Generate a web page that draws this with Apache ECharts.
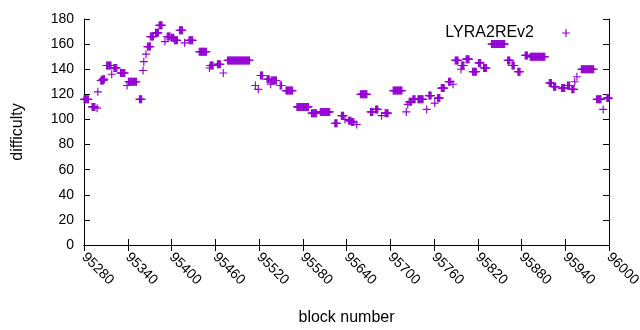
<!DOCTYPE html>
<html>
<head>
<meta charset="utf-8">
<script src="https://cdn.jsdelivr.net/npm/echarts@6/dist/echarts.min.js"></script>
<style>
  html, body { margin: 0; padding: 0; background: #fff; }
  #main { width: 640px; height: 330px; }
</style>
</head>
<body>
<div id="main"></div>
<script>
// runs of blocks that share one difficulty value: first block, last block, value
var runStart = [95280, 95291, 95298, 95299, 95303, 95305, 95311, 95318, 95321, 95330,
  95339, 95341, 95356, 95361, 95362, 95365, 95367, 95371, 95378, 95383,
  95391, 95394, 95400, 95404, 95411, 95418, 95424, 95438, 95452, 95453,
  95463, 95471, 95477, 95515, 95519, 95522, 95531, 95536, 95537, 95549,
  95557, 95572, 95592, 95604, 95624, 95633, 95638, 95643, 95647, 95654,
  95659, 95673, 95680, 95688, 95693, 95704, 95722, 95724, 95726, 95731,
  95738, 95750, 95753, 95761, 95765, 95770, 95780, 95786, 95789, 95797,
  95798, 95804, 95813, 95821, 95828, 95839, 95861, 95867, 95875, 95885,
  95892, 95918, 95924, 95935, 95943, 95949, 95953, 95956, 95962, 95983,
  95992, 95997];
var runEnd = [95286, 95295, 95298, 95299, 95307, 95308, 95317, 95318, 95325, 95336,
  95339, 95352, 95359, 95361, 95362, 95365, 95371, 95375, 95382, 95387,
  95391, 95398, 95403, 95408, 95415, 95418, 95429, 95448, 95452, 95457,
  95467, 95471, 95507, 95515, 95519, 95525, 95534, 95536, 95544, 95551,
  95566, 95588, 95599, 95617, 95627, 95636, 95638, 95646, 95650, 95654,
  95668, 95676, 95683, 95688, 95697, 95716, 95722, 95724, 95729, 95734,
  95745, 95750, 95756, 95761, 95768, 95774, 95783, 95786, 95793, 95797,
  95801, 95808, 95818, 95824, 95832, 95857, 95864, 95870, 95878, 95888,
  95912, 95921, 95927, 95939, 95946, 95952, 95953, 95956, 95979, 95989,
  95992, 96000];
var runValue = [116, 110, 109, 122, 131, 132, 143, 136, 141, 137,
  127, 130, 116, 139, 146, 152, 158, 166, 169, 175,
  162, 166, 165, 163, 171, 161, 163, 154, 141, 143,
  144, 137, 147, 127, 124, 135, 132, 128, 131, 127,
  123, 110, 105, 106, 97, 103, 100, 99, 98, 96,
  120, 106, 108, 103, 105, 123, 106, 112, 114, 116,
  116, 108, 119, 113, 117, 125, 130, 128, 147, 140,
  143, 148, 138, 145, 141, 160, 147, 143, 138, 151,
  150, 129, 126, 125, 127, 124, 130, 134, 140, 116,
  108, 117];

var xMin = 95280, xMax = 96000, xStep = 60;
var yMin = 0, yMax = 180, yStep = 20;

var points = [];
for (var i = 0; i < runStart.length; i++) {
  for (var b = runStart[i]; b <= runEnd[i]; b++) {
    points.push([b, runValue[i]]);
  }
}

var plus = 'path://M3,0h1v7h-1zM0,3h7v1h-7z';
var font = 'Liberation Sans';

var myChart = echarts.init(document.getElementById('main'));
var option = {
  animation: false,
  color: ['#9400d3'],
  textStyle: { fontFamily: font },
  grid: { left: 84, right: 31, top: 19, bottom: 85, containLabel: false, outerBoundsMode: 'none' },
  legend: {
    data: ['LYRA2REv2'],
    right: 65,
    top: 20,
    align: 'right',
    icon: plus,
    itemWidth: 54,
    itemHeight: 8,
    symbolKeepAspect: true,
    textStyle: { fontFamily: font, fontSize: 16, color: '#000' }
  },
  xAxis: [
    {
      type: 'value',
      min: xMin, max: xMax, interval: xStep,
      name: 'block number',
      nameLocation: 'middle',
      nameGap: 65,
      nameTextStyle: { fontFamily: font, fontSize: 16, color: '#000' },
      axisLine: { show: true, lineStyle: { color: '#000', width: 1 } },
      axisTick: { inside: true, length: 6, lineStyle: { color: '#000' } },
      axisLabel: { rotate: -45, margin: 10, fontSize: 14, color: '#000', fontFamily: font,
        formatter: function (v) { return String(v); } },
      splitLine: { show: false }
    },
    {
      type: 'value', position: 'top',
      min: xMin, max: xMax, interval: xStep,
      axisLine: { show: true, lineStyle: { color: '#000', width: 1 } },
      axisTick: { inside: true, length: 6, lineStyle: { color: '#000' } },
      axisLabel: { show: false },
      splitLine: { show: false }
    }
  ],
  yAxis: [
    {
      type: 'value',
      min: yMin, max: yMax, interval: yStep,
      name: 'difficulty',
      nameLocation: 'middle',
      nameGap: 58,
      nameRotate: 90,
      nameTextStyle: { fontFamily: font, fontSize: 16, color: '#000' },
      axisLine: { show: true, lineStyle: { color: '#000', width: 1 } },
      axisTick: { inside: true, length: 6, lineStyle: { color: '#000' } },
      axisLabel: { margin: 10, fontSize: 14, color: '#000', fontFamily: font },
      splitLine: { show: false }
    },
    {
      type: 'value', position: 'right',
      min: yMin, max: yMax, interval: yStep,
      axisLine: { show: true, lineStyle: { color: '#000', width: 1 } },
      axisTick: { inside: true, length: 6, lineStyle: { color: '#000' } },
      axisLabel: { show: false },
      splitLine: { show: false }
    }
  ],
  series: [
    {
      name: 'LYRA2REv2',
      type: 'scatter',
      symbol: plus,
      symbolSize: 8,
      itemStyle: { color: '#9400d3', opacity: 1 },
      data: points
    }
  ]
};
myChart.setOption(option);
</script>
</body>
</html>
